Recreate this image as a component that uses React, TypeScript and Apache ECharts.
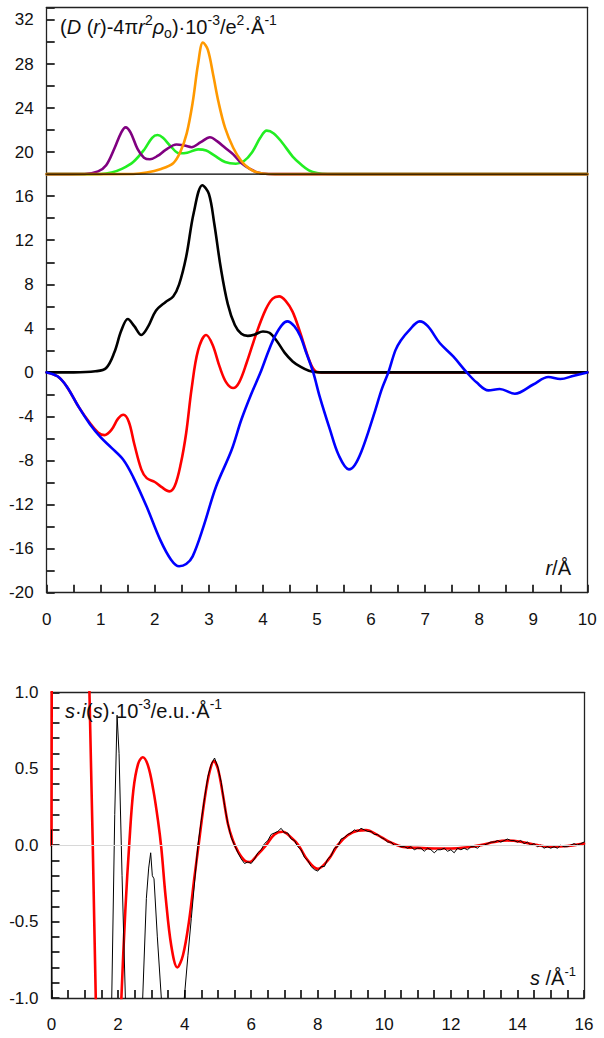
import React, { useEffect, useRef } from "react";
import * as echarts from "echarts";

// ---------- Top panel: radial distribution (r / Å) ----------
const totalCurve: [number, number][] = [
  [0, 0], [0.5, 0], [0.9, 0.1], [1.1, 0.4], [1.25, 1.8], [1.38, 3.8], [1.5, 4.85], [1.62, 4.2],
  [1.75, 3.4], [1.88, 4.2], [2.02, 5.6], [2.2, 6.4], [2.34, 6.9], [2.45, 8.0], [2.58, 10.5],
  [2.72, 14.5], [2.88, 17.0], [3.0, 16.2], [3.1, 13.5], [3.22, 9.5], [3.35, 6.2], [3.48, 4.3],
  [3.6, 3.5], [3.72, 3.32], [3.85, 3.45], [4.0, 3.72], [4.12, 3.6], [4.25, 2.9], [4.4, 1.8],
  [4.55, 1.0], [4.7, 0.5], [4.85, 0.15], [5.0, 0.02], [5.2, 0], [6, 0], [8, 0], [10, 0],
];
const redCurve: [number, number][] = [
  [0, 0], [0.2, -0.35], [0.37, -1.27], [0.6, -3.2], [0.8, -4.6], [0.95, -5.45], [1.07, -5.69],
  [1.2, -5.2], [1.32, -4.2], [1.42, -3.85], [1.52, -4.5], [1.62, -6.5], [1.75, -8.8], [1.85, -9.6],
  [2.0, -9.95], [2.12, -10.4], [2.27, -10.8], [2.37, -10.3], [2.48, -8.3], [2.58, -5.5],
  [2.68, -1.5], [2.8, 2.0], [2.95, 3.4], [3.07, 2.5], [3.2, 0.5], [3.32, -0.9], [3.45, -1.42],
  [3.56, -0.9], [3.7, 0.9], [3.88, 3.57], [4.05, 5.7], [4.18, 6.7], [4.3, 6.9], [4.42, 6.5],
  [4.55, 5.5], [4.69, 3.6], [4.8, 1.9], [4.9, 0.6], [4.97, 0.1], [5.05, 0], [5.5, 0], [7, 0], [10, 0],
];
const blueCurve: [number, number][] = [
  [0, 0], [0.2, -0.35], [0.37, -1.27], [0.6, -3.2], [0.8, -4.7], [1.0, -5.9], [1.2, -6.85],
  [1.42, -7.95], [1.6, -9.5], [1.85, -12.2], [2.1, -15.2], [2.3, -17.0], [2.45, -17.6],
  [2.58, -17.4], [2.7, -16.7], [2.9, -14.0], [3.13, -10.4], [3.42, -7.05], [3.6, -4.3],
  [3.78, -2.0], [3.95, -0.06], [4.1, 1.9], [4.22, 3.27], [4.35, 4.3], [4.45, 4.63], [4.58, 4.2],
  [4.69, 3.3], [4.8, 1.8], [4.93, 0], [5.05, -2.2], [5.24, -5.2], [5.4, -7.5], [5.59, -8.8],
  [5.7, -8.4], [5.82, -7.2], [5.95, -5.4], [6.08, -3.4], [6.2, -1.5], [6.32, 0], [6.45, 2.0],
  [6.55, 2.9], [6.7, 3.8], [6.9, 4.63], [7.05, 4.2], [7.27, 2.67], [7.52, 1.45], [7.77, 0],
  [7.95, -0.9], [8.17, -1.63], [8.38, -1.5], [8.66, -1.93], [9.0, -1.1], [9.28, -0.42],
  [9.5, -0.6], [9.75, -0.3], [10, 0],
];
const purpleCurve: [number, number][] = [
  [0, 18], [0.7, 18.02], [0.95, 18.25], [1.1, 18.8], [1.25, 20.3], [1.38, 21.8], [1.46, 22.25],
  [1.55, 21.8], [1.68, 20.3], [1.8, 19.5], [1.91, 19.35], [2.05, 19.65], [2.2, 20.2], [2.4, 20.7],
  [2.55, 20.6], [2.68, 20.45], [2.85, 20.9], [3.02, 21.35], [3.15, 21.0], [3.3, 20.4],
  [3.45, 19.8], [3.6, 19.0], [3.75, 18.5], [3.9, 18.15], [4.1, 18.02], [4.4, 18], [6, 18], [10, 18],
];
const greenCurve: [number, number][] = [
  [0, 18], [1.0, 18.02], [1.2, 18.15], [1.4, 18.5], [1.6, 19.1], [1.8, 20.2], [1.95, 21.3],
  [2.05, 21.55], [2.15, 21.3], [2.3, 20.5], [2.45, 19.9], [2.6, 19.95], [2.8, 20.25],
  [2.95, 20.15], [3.1, 19.7], [3.3, 19.1], [3.5, 18.95], [3.65, 19.2], [3.8, 20.0], [3.95, 21.3],
  [4.07, 21.95], [4.2, 21.7], [4.35, 20.9], [4.55, 19.6], [4.7, 18.9], [4.85, 18.35], [5.0, 18.1],
  [5.2, 18.01], [5.5, 18], [7, 18], [10, 18],
];
const orangeCurve: [number, number][] = [
  [0, 18], [1.6, 18.02], [1.85, 18.15], [2.1, 18.45], [2.34, 19.0], [2.47, 20.0], [2.59, 21.7],
  [2.7, 24.5], [2.8, 28.0], [2.89, 29.95], [2.98, 29.3], [3.08, 27.0], [3.18, 24.5], [3.3, 22.2],
  [3.45, 20.4], [3.6, 19.2], [3.75, 18.5], [3.9, 18.15], [4.1, 18.02], [4.4, 18], [6, 18], [10, 18],
];
const offsetBaseline: [number, number][] = [[0, 18], [10, 18]];

// ---------- Bottom panel: s·i(s) (s / Å^-1) ----------
const theoryCurve: [number, number][] = [
  [0, 0], [0.03, 2.5], [0.3, 6], [0.8, 5], [1.0, 2.6], [1.14, 1.0], [1.24, 0], [1.33, -1.0],
  [1.5, -2.6], [1.8, -2.8], [2.0, -1.6], [2.1, -1.0], [2.22, -0.42], [2.34, 0.02], [2.46, 0.36],
  [2.6, 0.53], [2.74, 0.575], [2.9, 0.52], [3.06, 0.36], [3.2, 0.16], [3.3, -0.02], [3.43, -0.34],
  [3.6, -0.66], [3.78, -0.8], [3.95, -0.72], [4.13, -0.5], [4.3, -0.2], [4.42, 0], [4.6, 0.3],
  [4.75, 0.48], [4.88, 0.55], [5.0, 0.5], [5.15, 0.33], [5.3, 0.14], [5.45, 0.03], [5.6, -0.04],
  [5.8, -0.1], [5.95, -0.11], [6.2, -0.06], [6.45, 0.0], [6.7, 0.07], [6.95, 0.088], [7.2, 0.05],
  [7.42, 0], [7.7, -0.1], [8.0, -0.155], [8.3, -0.1], [8.6, 0], [8.9, 0.065], [9.2, 0.095],
  [9.45, 0.098], [9.8, 0.066], [10.1, 0.028], [10.5, -0.008], [11.0, -0.018], [11.5, -0.022],
  [12.0, -0.022], [12.5, -0.014], [12.9, 0.0], [13.3, 0.02], [13.7, 0.03], [14.1, 0.022],
  [14.6, 0.0], [15.0, -0.01], [15.5, -0.006], [16, 0.01],
];
const expLowS: [number, number][] = [
  [0, 0.1], [0.04, -2.5], [1.0, -3], [1.7, -2.2], [1.81, -1.0], [1.9, 0.2], [1.97, 0.85],
  [2.03, 0.6], [2.12, -0.2], [2.22, -1.0], [2.4, -2.5], [2.6, -2.2], [2.74, -1.0], [2.85, -0.35],
  [2.92, -0.15], [2.98, -0.05], [3.03, -0.2], [3.08, -0.22], [3.18, -0.6], [3.3, -1.0],
  [3.5, -2.2], [3.8, -2.2], [3.99, -1.0], [4.1, -0.72], [4.2, -0.48], [4.3, -0.24],
];
const expS: number[] = [
  4.4, 4.5, 4.6, 4.7, 4.8, 4.9, 5.0, 5.1, 5.2, 5.3, 5.4, 5.5, 5.6, 5.7, 5.8, 5.9, 6.0, 6.1, 6.2, 6.3,
  6.4, 6.5, 6.6, 6.7, 6.8, 6.9, 7.0, 7.1, 7.2, 7.3, 7.4, 7.5, 7.6, 7.7, 7.8, 7.9, 8.0, 8.1, 8.2, 8.3,
  8.4, 8.5, 8.6, 8.7, 8.8, 8.9, 9.0, 9.1, 9.2, 9.3, 9.4, 9.5, 9.6, 9.7, 9.8, 9.9, 10.0, 10.1, 10.2,
  10.3, 10.4, 10.5, 10.6, 10.7, 10.8, 10.9, 11.0, 11.1, 11.2, 11.3, 11.4, 11.5, 11.6, 11.7, 11.8,
  11.9, 12.0, 12.1, 12.2, 12.3, 12.4, 12.5, 12.6, 12.7, 12.8, 12.9, 13.0, 13.1, 13.2, 13.3, 13.4,
  13.5, 13.6, 13.7, 13.8, 13.9, 14.0, 14.1, 14.2, 14.3, 14.4, 14.5, 14.6, 14.7, 14.8, 14.9, 15.0,
  15.1, 15.2, 15.3, 15.4, 15.5, 15.6, 15.7, 15.8, 15.9, 16.0,
];
const expValues: number[] = [
  0.0, 0.16, 0.31, 0.45, 0.53, 0.57, 0.51, 0.41, 0.26, 0.14, 0.05, 0.0, -0.05, -0.09, -0.12, -0.11,
  -0.12, -0.09, -0.05, -0.03, 0.01, 0.03, 0.07, 0.08, 0.09, 0.11, 0.08, 0.08, 0.04, 0.03, -0.01,
  -0.03, -0.08, -0.1, -0.14, -0.16, -0.17, -0.14, -0.14, -0.09, -0.07, -0.02, -0.01, 0.04, 0.05,
  0.07, 0.08, 0.1, 0.09, 0.11, 0.1, 0.09, 0.09, 0.07, 0.07, 0.05, 0.04, 0.02, 0.02, 0.0, 0.0, -0.01,
  -0.01, -0.02, -0.01, -0.03, -0.02, -0.02, -0.04, -0.02, -0.03, -0.05, -0.03, -0.03, -0.02, -0.04,
  -0.03, -0.05, -0.02, -0.03, -0.02, -0.03, -0.01, -0.01, -0.02, 0.0, 0.0, 0.01, 0.02, 0.02, 0.03,
  0.02, 0.03, 0.04, 0.03, 0.03, 0.02, 0.03, 0.01, 0.02, 0.0, 0.01, -0.01, 0.0, -0.02, -0.01, -0.02,
  -0.01, -0.02, 0.0, -0.01, -0.01, 0.0, 0.01, 0.0, 0.01, 0.02,
];

const FONT = "'Liberation Sans', Arial, Helvetica, sans-serif";
const AXIS_COLOR = "#222";
const TEXT_COLOR = "#111";

function richStyles(size: number, lh: number, sup: number) {
  return {
    n: { fontSize: size, fontFamily: FONT, fill: TEXT_COLOR, lineHeight: lh, verticalAlign: "middle" },
    i: { fontSize: size, fontFamily: FONT, fill: TEXT_COLOR, fontStyle: "italic", lineHeight: lh, verticalAlign: "middle" },
    sp: { fontSize: sup, fontFamily: FONT, fill: TEXT_COLOR, lineHeight: sup + 2, verticalAlign: "top" },
    sb: { fontSize: sup, fontFamily: FONT, fill: TEXT_COLOR, lineHeight: sup + 2, verticalAlign: "bottom" },
  };
}

export default function App() {
  const ref = useRef<HTMLDivElement>(null);
  useEffect(() => {
    if (!ref.current) return;
    const chart = echarts.init(ref.current, undefined, { renderer: "svg" });

    const lineSeries = (
      data: [number, number][],
      color: string,
      width: number,
      idx: number,
      smooth: number | boolean
    ) => ({
      type: "line",
      xAxisIndex: idx,
      yAxisIndex: idx,
      data,
      smooth,
      showSymbol: false,
      symbol: "none",
      clip: true,
      silent: true,
      lineStyle: { color, width, join: "round", cap: "round" },
    });

    const expCurve: [number, number][] = expLowS.concat(
      expS.map((s, k) => [s, expValues[k]] as [number, number])
    );

    const lineOnly = {
      axisLine: { show: true, onZero: false, lineStyle: { color: AXIS_COLOR, width: 1.3 } },
      axisTick: { show: false },
      axisLabel: { show: false },
      splitLine: { show: false },
      minorTick: { show: false },
    };
    const mainAxis = (tickLen: number, minorSplit: number, margin: number, fmt: (v: number) => string, extra: any) => ({
      axisLine: { show: true, onZero: false, lineStyle: { color: AXIS_COLOR, width: 1.3 } },
      axisTick: { show: true, inside: true, length: tickLen, lineStyle: { color: AXIS_COLOR, width: 1.8 } },
      minorTick: { show: true, splitNumber: minorSplit, length: tickLen, lineStyle: { color: AXIS_COLOR, width: 1.8 } },
      splitLine: { show: false },
      axisLabel: { margin, fontSize: 17, fontFamily: FONT, color: TEXT_COLOR, formatter: fmt, ...extra },
    });

    chart.setOption({
      animation: false,
      grid: [
        { left: 46.7, top: 7.3, width: 540.6, height: 585.4, containLabel: false, outerBoundsMode: "none" },
        { left: 51.5, top: 692.3, width: 532.5, height: 305.7, containLabel: false, outerBoundsMode: "none" },
      ],
      xAxis: [
        {
          type: "value", gridIndex: 0, position: "bottom", min: 0, max: 10, interval: 1,
          ...mainAxis(8, 2, 18, (v: number) => String(Math.round(v)), {}),
        },
        {
          type: "value", gridIndex: 1, position: "bottom", min: 0, max: 16, interval: 2,
          ...mainAxis(8, 4, 18, (v: number) => String(Math.round(v)), {}),
        },
        { type: "value", gridIndex: 0, position: "top", min: 0, max: 10, ...lineOnly },
        { type: "value", gridIndex: 1, position: "top", min: 0, max: 16, ...lineOnly },
      ],
      yAxis: [
        {
          type: "value", gridIndex: 0, position: "left", min: -20, max: 33.15, interval: 4,
          ...mainAxis(8, 2, 13, (v: number) => (Math.abs(v - Math.round(v)) < 1e-6 ? String(Math.round(v)) : ""), { showMaxLabel: false }),
        },
        {
          type: "value", gridIndex: 1, position: "left", min: -1, max: 1, interval: 0.5,
          ...mainAxis(8, 5, 13, (v: number) => v.toFixed(1), {}),
        },
        { type: "value", gridIndex: 0, position: "right", min: -20, max: 33.15, ...lineOnly },
        { type: "value", gridIndex: 1, position: "right", min: -1, max: 1, ...lineOnly },
      ],
      series: [
        lineSeries(redCurve, "#ff0000", 2.6, 0, 0.35),
        lineSeries(totalCurve, "#000000", 2.6, 0, 0.35),
        lineSeries(blueCurve, "#0000ff", 2.6, 0, 0.35),
        lineSeries(greenCurve, "#22ee22", 2.6, 0, 0.35),
        lineSeries(purpleCurve, "#800080", 2.6, 0, 0.35),
        lineSeries(orangeCurve, "#ff9900", 2.6, 0, 0.35),
        lineSeries(offsetBaseline, "#000000", 1.3, 0, false),
        {
          ...lineSeries(theoryCurve, "#ff0000", 2.6, 1, 0.35),
          markLine: {
            silent: true,
            symbol: "none",
            label: { show: false },
            lineStyle: { color: "#d8d8d8", width: 1, type: "solid" },
            data: [{ yAxis: 0 }],
          },
        },
        lineSeries(expCurve, "#000000", 1, 1, false),
      ],
      graphic: [
        {
          type: "text", x: 60, y: 13, z: 100,
          style: {
            text: "{n|(}{i|D}{n| (}{i|r}{n|)-4π}{i|r}{sp|2}{i|ρ}{sb|o}{n|)·10}{sp|-3}{n|/e}{sp|2}{n|·Å}{sp|-1}",
            rich: richStyles(20, 27, 14), align: "left", verticalAlign: "top",
          },
        },
        {
          type: "text", x: 65, y: 697, z: 100,
          style: {
            text: "{i|s}{n|·}{i|i}{n|(}{i|s}{n|)·10}{sp|-3}{n|/e.u.·Å}{sp|-1}",
            rich: richStyles(20, 27, 14), align: "left", verticalAlign: "top",
          },
        },
        {
          type: "text", x: 571, y: 555, z: 100,
          style: {
            text: "{i|r}{n|/Å}",
            rich: richStyles(20, 26, 13), align: "right", verticalAlign: "top",
          },
        },
        {
          type: "text", x: 576, y: 965, z: 100,
          style: {
            text: "{i|s}{n| /Å}{sp|-1}",
            rich: richStyles(20, 26, 13), align: "right", verticalAlign: "top",
          },
        },
      ],
    });

    return () => chart.dispose();
  }, []);

  return (
    <div
      ref={ref}
      style={{ position: "absolute", left: 0, top: 0, width: 604, height: 1038 }}
    />
  );
}
